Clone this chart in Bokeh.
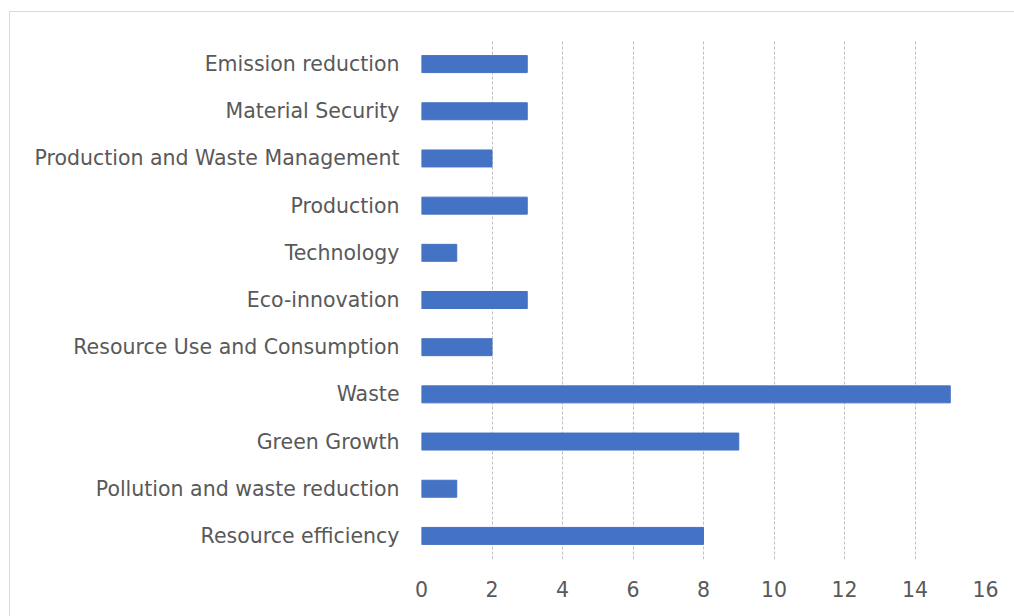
from bokeh.plotting import figure
from bokeh.models import FactorRange, Range1d, FixedTicker, ColumnDataSource
from bokeh.embed import file_html
from bokeh.resources import INLINE

categories = ["Resource efficiency", "Pollution and waste reduction", "Green Growth", "Waste",
              "Resource Use and Consumption", "Eco-innovation", "Technology", "Production",
              "Production and Waste Management", "Material Security", "Emission reduction"]
values = [8, 1, 9, 15, 2, 3, 1, 3, 2, 3, 3]
x_ticks = [0, 2, 4, 6, 8, 10, 12, 14, 16]

src = ColumnDataSource(dict(cat=categories, val=values))

p = figure(width=1005, height=605, output_backend="svg", toolbar_location=None,
           y_range=FactorRange(*categories), x_range=Range1d(0, 16),
           min_border_left=411, min_border_right=30, min_border_top=28, min_border_bottom=58)
p.styles = {"margin-left": "9px", "margin-top": "11px",
            "border-top": "1px solid #d9d9d9", "border-left": "1px solid #d9d9d9"}

p.hbar(y="cat", right="val", left=0, height=0.36, color="#4472C4", source=src)

p.outline_line_color = None
p.ygrid.grid_line_color = None
p.xgrid.grid_line_color = "#bfbfbf"
p.xgrid.grid_line_dash = "3 2"
p.xaxis.ticker = FixedTicker(ticks=x_ticks)
for ax in (p.xaxis, p.yaxis):
    ax.axis_line_color = None
    ax.major_tick_line_color = None
    ax.minor_tick_line_color = None
    ax.major_label_text_color = "#595959"
    ax.major_label_text_font = "DejaVu Sans"
    ax.major_label_text_font_size = "20.5px"
p.yaxis.major_label_standoff = 16
p.xaxis.major_label_standoff = 15

open("out.html", "w").write(file_html(p, INLINE))
